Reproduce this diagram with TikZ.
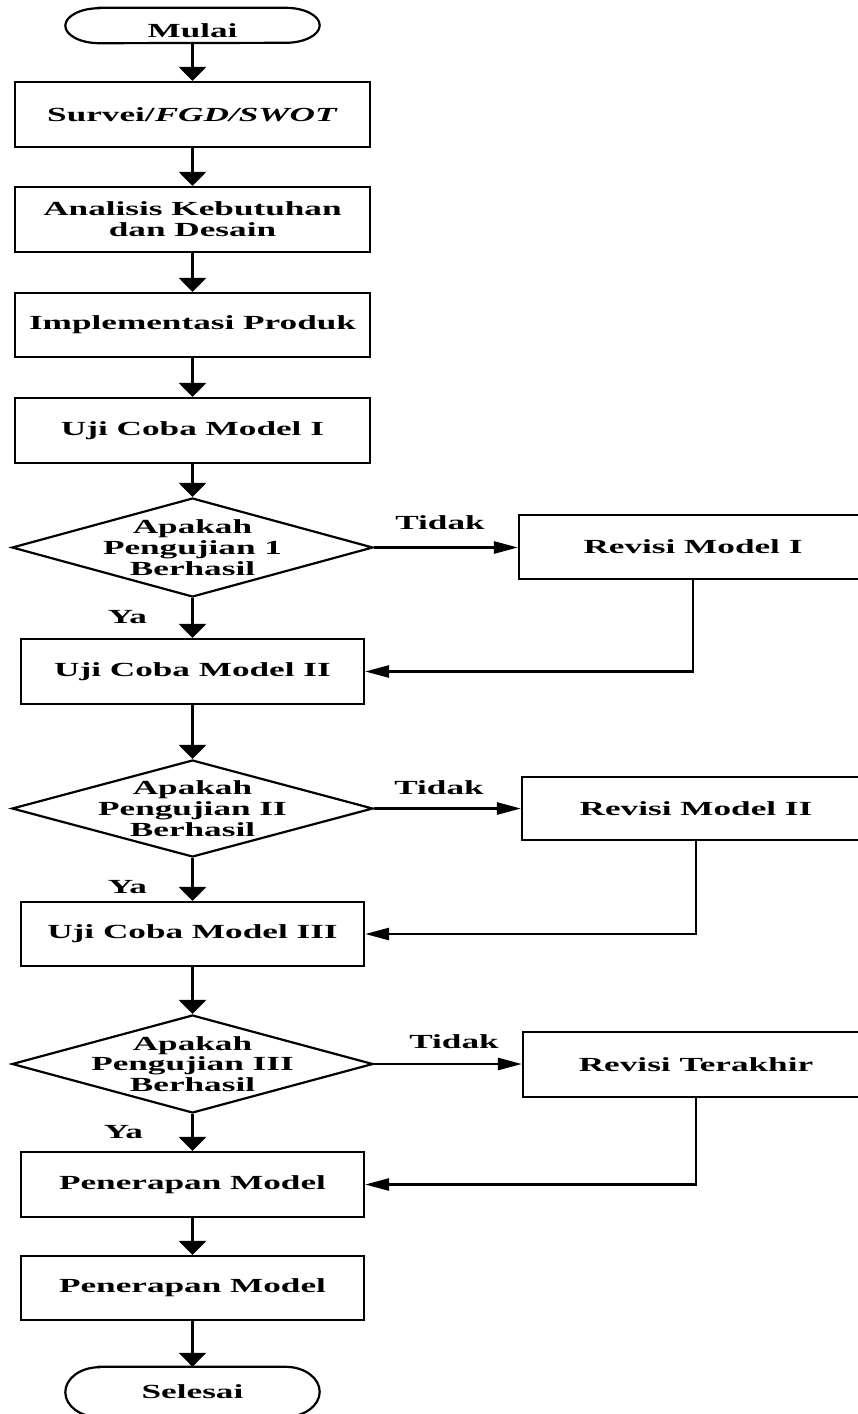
\documentclass[tikz,border=0pt]{standalone}
\usepackage{fontspec}
% wide bold serif lettering
\setmainfont{Liberation Serif}[FakeStretch=1.76]
\usetikzlibrary{arrows.meta,shapes.geometric}

% stadium outline around a terminal node: #1 node name, #2 vertical radius
\newcommand\stadiumoutline[2]{%
  \draw[outline] ([xshift=34pt]#1.north west) -- ([xshift=-34pt]#1.north east)
    arc[start angle=90,end angle=-90,x radius=34pt,y radius=#2]
    -- ([xshift=34pt]#1.south west)
    arc[start angle=270,end angle=90,x radius=34pt,y radius=#2] -- cycle;}

\begin{document}
\begin{tikzpicture}[x=1pt,y=-1pt,
  txt/.style={font=\fontsize{20}{20.8}\selectfont\bfseries, align=center, inner sep=0pt},
  outline/.style={line width=2.2pt, line join=miter},
  stepbox/.style={draw, outline, rectangle, minimum width=#1, minimum height=65pt,
    inner sep=0pt, txt},
  stepbox/.default=343pt,
  decision/.style={draw, outline, diamond, minimum width=361pt, minimum height=99pt,
    inner sep=0pt},
  terminal/.style={rectangle, minimum width=254pt, inner sep=0pt, txt},
  vflow/.style={line width=2.8pt, -{Triangle[length=14pt,width=27pt]}},
  hflow/.style={line width=2.6pt, -{Triangle[length=24pt,width=12pt]}},
]
\useasboundingbox (0,0) rectangle (858,1414);
\fill[white] (0,0) rectangle (858,1414);
\clip (0,0) rectangle (858,1414);

% main column
\node[terminal, minimum height=35pt, text height=24pt, text depth=0pt] (start)
  at (192.5,25.5) {Mulai};
\stadiumoutline{start}{17.5pt}
\node[stepbox=355pt] (survey) at (192.5,114.5) {Survei/\textit{FGD/SWOT}};
\node[stepbox=355pt] (analysis) at (192.5,219.5) {Analisis Kebutuhan\\dan Desain};
\node[stepbox=355pt, minimum height=64pt] (impl) at (192.5,325) {Implementasi Produk};
\node[stepbox=355pt] (test1) at (192.5,430.5) {Uji Coba Model I};

\node[decision] (dec1) at (192.5,547.5) {};
\node[txt] (dec1t) at (dec1.center) {Apakah\\Pengujian 1\\Berhasil};
\node[stepbox] (test2) at (192.5,671.5) {Uji Coba Model II};

\node[decision, minimum height=97pt] (dec2) at (192.5,808.5) {};
\node[txt] (dec2t) at (dec2.center) {Apakah\\Pengujian II\\Berhasil};
\node[stepbox, minimum height=64pt] (test3) at (192.5,934) {Uji Coba Model III};

\node[decision, minimum height=98pt] (dec3) at (192.5,1064) {};
\node[txt] (dec3t) at (dec3.center) {Apakah\\Pengujian III\\Berhasil};
\node[stepbox] (apply1) at (192.5,1184.5) {Penerapan Model};
\node[stepbox, minimum height=64pt] (apply2) at (192.5,1288) {Penerapan Model};

\node[terminal, minimum height=50pt] (finish) at (192.5,1392) {Selesai};
\stadiumoutline{finish}{25pt}

% revision column
\node[stepbox=348pt, minimum height=64pt] (rev1) at (693,547) {Revisi Model I};
\node[stepbox=348pt, minimum height=63pt] (rev2) at (696,808.5) {Revisi Model II};
\node[stepbox=346pt] (rev3) at (696,1064.5) {Revisi Terakhir};

% branch labels
\node[txt] (no1) at (440,523) {Tidak};
\node[txt] (no2) at (439,788) {Tidak};
\node[txt] (no3) at (454,1042) {Tidak};
\node[txt] (yes1) at (127.5,617) {Ya};
\node[txt] (yes2) at (127.5,887) {Ya};
\node[txt] (yes3) at (123.5,1132) {Ya};

% downward flow
\draw[vflow] (start.south) -- (survey.north);
\draw[vflow] (survey.south) -- (analysis.north);
\draw[vflow] (analysis.south) -- (impl.north);
\draw[vflow] (impl.south) -- (test1.north);
\draw[vflow] (test1.south) -- (dec1.north);
\draw[vflow] (dec1.south) -- (test2.north);
\draw[vflow] (test2.south) -- (dec2.north);
\draw[vflow] (dec2.south) -- (test3.north);
\draw[vflow] (test3.south) -- (dec3.north);
\draw[vflow] (dec3.south) -- (apply1.north);
\draw[vflow] (apply1.south) -- (apply2.north);
\draw[vflow] (apply2.south) -- (finish.north);

% failed tests go to revision, then back into the next trial
\draw[hflow] (dec1.east) -- (dec1.east -| rev1.west);
\draw[hflow] (dec2.east) -- (dec2.east -| rev2.west);
\draw[hflow] (dec3.east) -- (dec3.east -| rev3.west);
\draw[hflow] (rev1.south) |- (test2.east);
\draw[hflow] (rev2.south) |- (test3.east);
\draw[hflow] (rev3.south) |- (apply1.east);
\end{tikzpicture}
\end{document}
